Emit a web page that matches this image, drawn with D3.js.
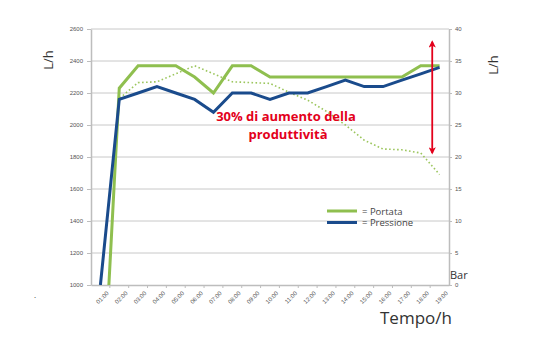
<!DOCTYPE html>
<html>
<head>
<meta charset="utf-8">
<script src="https://cdn.jsdelivr.net/npm/d3@7"></script>
<style>
  body { margin: 0; background: #fff; }
  svg { display: block; font-family: "Open Sans", "Liberation Sans", sans-serif; }
</style>
</head>
<body>
<div id="chart"></div>
<script>
const hours = ['01:00', '02:00', '03:00', '04:00', '05:00', '06:00', '07:00', '08:00', '09:00', '10:00',
  '11:00', '12:00', '13:00', '14:00', '15:00', '16:00', '17:00', '18:00', '19:00']
// L/h, left axis
const portata = [0, 2230, 2370, 2370, 2370, 2300, 2200, 2370, 2370, 2300, 2300, 2300, 2300, 2300, 2300, 2300, 2300, 2370, 2370]
const portataPrima = [1000, 2165, 2265, 2270, 2320, 2370, 2320, 2270, 2265, 2260, 2205, 2155, 2085, 2000, 1905, 1850, 1845, 1825, 1690]
// Bar, right axis
const pressione = [0, 29, 30, 31, 30, 29, 27, 30, 30, 29, 30, 30, 31, 32, 31, 31, 32, 33, 34]
const leftTicks = [1000, 1200, 1400, 1600, 1800, 2000, 2200, 2400, 2600]
const rightTicks = [0, 5, 10, 15, 20, 25, 30, 35, 40]
const arrowRange = [2520, 1825] // L/h, red arrow ends

const width = 550
const height = 350
const plot = { left: 91, right: 449, top: 29, bottom: 285 }
const green = '#8fbf4f'
const blue = '#1a4b8c'
const red = '#e3001b'
const gray = '#bdbdbd'

const svg = d3.select('#chart').append('svg')
  .attr('width', width)
  .attr('height', height)

const xBand = d3.scaleBand().domain(hours).range([plot.left, plot.right])
const x = d => xBand(d) + xBand.bandwidth() / 2
const yL = d3.scaleLinear().domain([1000, 2600]).range([plot.bottom, plot.top])
const yR = d3.scaleLinear().domain([0, 40]).range([plot.bottom, plot.top])

// gridlines
svg.append('g')
  .selectAll('line')
  .data(leftTicks.slice(1))
  .join('line')
    .attr('x1', plot.left)
    .attr('x2', plot.right)
    .attr('y1', d => yL(d))
    .attr('y2', d => yL(d))
    .attr('stroke', '#c8c8c8')
    .attr('stroke-width', 1)

// axes
const styleAxis = g => {
  g.select('.domain').attr('stroke', gray).attr('stroke-width', 1.5)
  g.selectAll('.tick line').attr('stroke', gray)
  g.selectAll('.tick text').attr('fill', '#555').attr('font-size', 6)
}

svg.append('g')
  .attr('transform', `translate(${plot.left},0)`)
  .call(d3.axisLeft(yL).tickValues(leftTicks).tickFormat(d3.format('d'))
    .tickSize(4).tickSizeOuter(0).tickPadding(4))
  .call(styleAxis)

svg.append('g')
  .attr('transform', `translate(${plot.right},0)`)
  .call(d3.axisRight(yR).tickValues(rightTicks).tickFormat(d3.format('d'))
    .tickSize(3).tickSizeOuter(0).tickPadding(3))
  .call(styleAxis)

const xAxis = svg.append('g')
  .attr('transform', `translate(0,${plot.bottom})`)
  .call(d3.axisBottom(xBand).tickSize(0).tickSizeOuter(0).tickPadding(6))
  .call(styleAxis)
xAxis.selectAll('.tick text')
  .attr('text-anchor', 'end')
  .attr('dy', '0.35em')
  .attr('transform', 'translate(3,3) rotate(-45)')
// excel style ticks between categories
xAxis.append('g')
  .selectAll('line')
  .data(hours.slice(1))
  .join('line')
    .attr('x1', d => xBand(d))
    .attr('x2', d => xBand(d))
    .attr('y1', 0)
    .attr('y2', 3)
    .attr('stroke', gray)

// series
svg.append('clipPath').attr('id', 'clip')
  .append('rect')
    .attr('x', plot.left)
    .attr('y', plot.top - 5)
    .attr('width', plot.right - plot.left)
    .attr('height', plot.bottom - plot.top + 5)

const series = svg.append('g').attr('clip-path', 'url(#clip)')

series.append('path')
  .datum(portataPrima)
  .attr('fill', 'none')
  .attr('stroke', '#9cc65e')
  .attr('stroke-width', 1.6)
  .attr('stroke-dasharray', '1.6,2.4')
  .attr('d', d3.line().x((d, i) => x(hours[i])).y(d => yL(d)))

series.append('path')
  .datum(portata)
  .attr('fill', 'none')
  .attr('stroke', green)
  .attr('stroke-width', 3)
  .attr('d', d3.line().x((d, i) => x(hours[i])).y(d => yL(d)))

series.append('path')
  .datum(pressione)
  .attr('fill', 'none')
  .attr('stroke', blue)
  .attr('stroke-width', 3)
  .attr('d', d3.line().x((d, i) => x(hours[i])).y(d => yR(d)))

// red arrow
const defs = svg.append('defs')
defs.append('marker')
  .attr('id', 'head')
  .attr('viewBox', '0 0 10 10')
  .attr('refX', 8)
  .attr('refY', 5)
  .attr('markerWidth', 5)
  .attr('markerHeight', 4)
  .attr('orient', 'auto-start-reverse')
  .attr('markerUnits', 'strokeWidth')
  .append('path')
    .attr('d', 'M0,0L10,5L0,10L2.5,5z')
    .attr('fill', red)

const arrowX = x('18:00') + 11.5
svg.append('line')
  .attr('x1', arrowX)
  .attr('x2', arrowX)
  .attr('y1', yL(arrowRange[0]))
  .attr('y2', yL(arrowRange[1]))
  .attr('stroke', red)
  .attr('stroke-width', 1.8)
  .attr('marker-start', 'url(#head)')
  .attr('marker-end', 'url(#head)')

// annotation
const note = svg.append('text')
  .attr('fill', red)
  .attr('font-weight', 'bold')
  .attr('font-size', 13)
  .attr('text-anchor', 'middle')
note.append('tspan').attr('x', 286).attr('y', 121).text('30% di aumento della')
note.append('tspan').attr('x', 288).attr('y', 139).text('produttività')

// legend
const legend = svg.append('g').attr('transform', 'translate(327,211)')
const legendItems = [['= Portata', green], ['= Pressione', blue]]
legendItems.forEach(([label, color], i) => {
  legend.append('line')
    .attr('x1', 0).attr('x2', 30)
    .attr('y1', i * 11.5).attr('y2', i * 11.5)
    .attr('stroke', color)
    .attr('stroke-width', 3)
  legend.append('text')
    .attr('x', 35)
    .attr('y', i * 11.5 + 3.5)
    .attr('font-size', 9.5)
    .attr('fill', '#444')
    .text(label)
})

// axis titles
svg.append('text')
  .attr('transform', 'translate(53,60) rotate(-90)')
  .attr('text-anchor', 'middle')
  .attr('font-size', 13)
  .attr('fill', '#333')
  .text('L/h')

svg.append('text')
  .attr('transform', 'translate(498,65) rotate(-90)')
  .attr('text-anchor', 'middle')
  .attr('font-size', 13)
  .attr('fill', '#333')
  .text('L/h')

svg.append('text')
  .attr('x', 450)
  .attr('y', 279)
  .attr('font-size', 11)
  .attr('fill', '#333')
  .text('Bar')

svg.append('text')
  .attr('x', 380)
  .attr('y', 324)
  .attr('font-size', 17)
  .attr('fill', '#333')
  .text('Tempo/h')

svg.append('text')
  .attr('x', 34)
  .attr('y', 298)
  .attr('font-size', 8)
  .attr('fill', '#333')
  .text('.')
</script>
</body>
</html>
